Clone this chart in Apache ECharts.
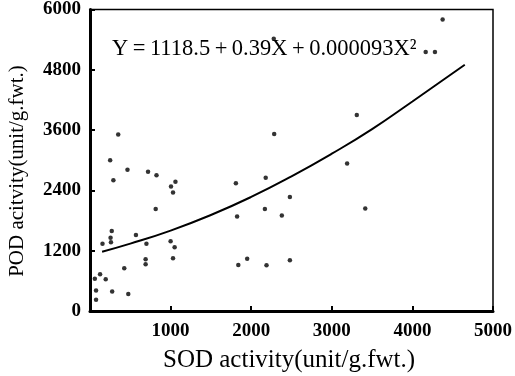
<!DOCTYPE html>
<html>
<head>
<meta charset="utf-8">
<script src="https://cdn.jsdelivr.net/npm/echarts@6/dist/echarts.min.js"></script>
<style>html,body{margin:0;padding:0;background:#fff;}#c{width:515px;height:376px;}</style>
</head>
<body>
<div id="c"></div>
<script>
// SOD activity (x) and POD activity (y) of each sample
var sodX = [350, 250, 465, 290, 720, 825, 1005, 1060, 1030, 815,
            270, 255, 260, 155, 570, 700, 690, 690, 425, 125,
            60, 195, 75, 275, 475, 75, 1000, 1050, 1030, 1810,
            1825, 1840, 1950, 2180, 2170, 2190, 2280, 2285, 2480, 2380,
            2480, 3190, 3310, 3415, 4165, 4280, 4375];
var podY = [3510, 3000, 2810, 2600, 2770, 2700, 2480, 2570, 2360, 2030,
            1590, 1460, 1370, 1340, 1510, 1340, 1030, 930, 850, 730,
            640, 630, 410, 390, 340, 225, 1390, 1270, 1050, 2540,
            1880, 915, 1040, 2650, 2030, 910, 5420, 3520, 2270, 1900,
            1010, 2935, 3900, 2040, 5155, 5155, 5800];
// fitted curve
var curveX = [150, 500, 1000, 1500, 2000, 2500, 3000, 3500, 4000, 4650];
var curveY = [1180, 1340, 1600, 1910, 2270, 2680, 3130, 3620, 4170, 4900];
var xTicks = [0, 1000, 2000, 3000, 4000, 5000];
var yTicks = [0, 1200, 2400, 3600, 4800, 6000];
var equation = 'Y\u2009=\u20091118.5\u2009+\u20090.39X\u2009+\u20090.000093X\u00B2';
var xTitle = 'SOD activity(unit/g.fwt.)';
var yTitle = 'POD acitvity(unit/g.fwt.)';

var pts = sodX.map(function (x, i) { return [x, podY[i]]; });
var curve = curveX.map(function (x, i) { return [x, curveY[i]]; });
var serif = '"Liberation Serif","Noto Sans CJK SC",serif';

var chart = echarts.init(document.getElementById('c'));
chart.setOption({
  animation: false,
  backgroundColor: '#fff',
  grid: { left: 90, right: 22, top: 8, bottom: 65, show: true, borderColor: '#000', borderWidth: 1.5 },
  xAxis: {
    type: 'value', min: xTicks[0], max: xTicks[xTicks.length - 1], interval: 1000,
    axisLine: { lineStyle: { color: '#000', width: 3 } },
    axisTick: { inside: true, length: 5, lineStyle: { color: '#000', width: 2 } },
    splitLine: { show: false },
    axisLabel: { color: '#000', fontFamily: serif, fontSize: 19, fontWeight: 'bold', margin: 11,
      formatter: function (v) { return v === 0 ? '' : String(v); } }
  },
  yAxis: {
    type: 'value', min: yTicks[0], max: yTicks[yTicks.length - 1], interval: 1200,
    axisLine: { lineStyle: { color: '#000', width: 3 } },
    axisTick: { inside: true, length: 5, lineStyle: { color: '#000', width: 2 } },
    splitLine: { show: false },
    axisLabel: { color: '#000', fontFamily: serif, fontSize: 19, fontWeight: 'bold', margin: 9,
      formatter: function (v) { return String(v); } }
  },
  series: [
    { type: 'scatter', data: pts, symbol: 'circle', symbolSize: 4.5, itemStyle: { color: '#000' } },
    { type: 'line', data: curve, smooth: true, showSymbol: false, symbol: 'none',
      lineStyle: { color: '#000', width: 2 } }
  ],
  graphic: [
    { type: 'text', left: 112, top: 38, style: { text: equation, font: '22.5px ' + serif, fill: '#000' } },
    { type: 'text', x: 289, y: 360, style: { text: xTitle, font: '25px ' + serif, fill: '#000', textAlign: 'center', textVerticalAlign: 'middle' } },
    { type: 'text', x: 17, y: 171, rotation: Math.PI / 2, style: { text: yTitle, font: '21px ' + serif, fill: '#000', textAlign: 'center', textVerticalAlign: 'middle' } }
  ]
});
</script>
</body>
</html>
